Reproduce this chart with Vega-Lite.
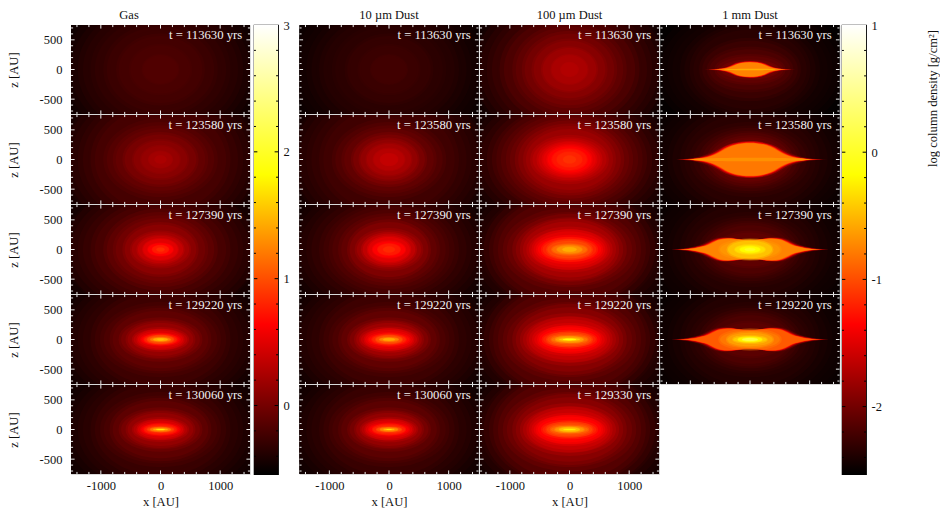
{"$schema":"https://vega.github.io/schema/vega-lite/v6.json","padding":{"left":7,"top":8,"right":0,"bottom":0},"background":"white","resolve":{"scale":{"color":"independent","stroke":"independent","strokeWidth":"independent","shape":"independent","size":"independent"}},"config":{"view":{"stroke":"#d8d8d8","strokeWidth":1},"font":"Liberation Serif","axis":{"labelFont":"Liberation Serif","titleFont":"Liberation Serif","labelFontSize":12.5,"titleFontSize":12.6,"titleFontWeight":"normal","labelColor":"#111","titleColor":"#111","ticks":false,"domain":false,"grid":false,"labelOverlap":false,"labelFlush":false},"title":{"font":"Liberation Serif","fontSize":12.5,"fontWeight":"normal","color":"#111","offset":3,"anchor":"middle"},"text":{"font":"Liberation Serif"}},
"datasets":{"xt":[{"x":-1400,"z":-750,"z2":-715},{"x":-1200,"z":-750,"z2":-715},{"x":-1000,"z":-750,"z2":-690},{"x":-800,"z":-750,"z2":-715},{"x":-600,"z":-750,"z2":-715},{"x":-400,"z":-750,"z2":-715},{"x":-200,"z":-750,"z2":-715},{"x":0,"z":-750,"z2":-690},{"x":200,"z":-750,"z2":-715},{"x":400,"z":-750,"z2":-715},{"x":600,"z":-750,"z2":-715},{"x":800,"z":-750,"z2":-715},{"x":1000,"z":-750,"z2":-690},{"x":1200,"z":-750,"z2":-715},{"x":1400,"z":-750,"z2":-715},{"x":-1400,"z":750,"z2":715},{"x":-1200,"z":750,"z2":715},{"x":-1000,"z":750,"z2":690},{"x":-800,"z":750,"z2":715},{"x":-600,"z":750,"z2":715},{"x":-400,"z":750,"z2":715},{"x":-200,"z":750,"z2":715},{"x":0,"z":750,"z2":690},{"x":200,"z":750,"z2":715},{"x":400,"z":750,"z2":715},{"x":600,"z":750,"z2":715},{"x":800,"z":750,"z2":715},{"x":1000,"z":750,"z2":690},{"x":1200,"z":750,"z2":715},{"x":1400,"z":750,"z2":715}],
"yt":[{"z":-700,"x":-1500,"x2":-1465},{"z":-600,"x":-1500,"x2":-1465},{"z":-500,"x":-1500,"x2":-1440},{"z":-400,"x":-1500,"x2":-1465},{"z":-300,"x":-1500,"x2":-1465},{"z":-200,"x":-1500,"x2":-1465},{"z":-100,"x":-1500,"x2":-1465},{"z":0,"x":-1500,"x2":-1440},{"z":100,"x":-1500,"x2":-1465},{"z":200,"x":-1500,"x2":-1465},{"z":300,"x":-1500,"x2":-1465},{"z":400,"x":-1500,"x2":-1465},{"z":500,"x":-1500,"x2":-1440},{"z":600,"x":-1500,"x2":-1465},{"z":700,"x":-1500,"x2":-1465},{"z":-700,"x":1500,"x2":1465},{"z":-600,"x":1500,"x2":1465},{"z":-500,"x":1500,"x2":1440},{"z":-400,"x":1500,"x2":1465},{"z":-300,"x":1500,"x2":1465},{"z":-200,"x":1500,"x2":1465},{"z":-100,"x":1500,"x2":1465},{"z":0,"x":1500,"x2":1440},{"z":100,"x":1500,"x2":1465},{"z":200,"x":1500,"x2":1465},{"z":300,"x":1500,"x2":1465},{"z":400,"x":1500,"x2":1465},{"z":500,"x":1500,"x2":1440},{"z":600,"x":1500,"x2":1465},{"z":700,"x":1500,"x2":1465}],
"bt":[{"g":-0.4,"m":-2.4,"x":0,"x2":0.08},{"g":-0.2,"m":-2.2,"x":0,"x2":0.08},{"g":0,"m":-2,"x":0,"x2":0.14},{"g":0.2,"m":-1.8,"x":0,"x2":0.08},{"g":0.4,"m":-1.6,"x":0,"x2":0.08},{"g":0.6,"m":-1.4,"x":0,"x2":0.08},{"g":0.8,"m":-1.2,"x":0,"x2":0.08},{"g":1,"m":-1,"x":0,"x2":0.14},{"g":1.2,"m":-0.8,"x":0,"x2":0.08},{"g":1.4,"m":-0.6,"x":0,"x2":0.08},{"g":1.6,"m":-0.4,"x":0,"x2":0.08},{"g":1.8,"m":-0.2,"x":0,"x2":0.08},{"g":2,"m":0,"x":0,"x2":0.14},{"g":2.2,"m":0.2,"x":0,"x2":0.08},{"g":2.4,"m":0.4,"x":0,"x2":0.08},{"g":2.6,"m":0.6,"x":0,"x2":0.08},{"g":2.8,"m":0.8,"x":0,"x2":0.08},{"g":-0.4,"m":-2.4,"x":1,"x2":0.92},{"g":-0.2,"m":-2.2,"x":1,"x2":0.92},{"g":0,"m":-2,"x":1,"x2":0.86},{"g":0.2,"m":-1.8,"x":1,"x2":0.92},{"g":0.4,"m":-1.6,"x":1,"x2":0.92},{"g":0.6,"m":-1.4,"x":1,"x2":0.92},{"g":0.8,"m":-1.2,"x":1,"x2":0.92},{"g":1,"m":-1,"x":1,"x2":0.86},{"g":1.2,"m":-0.8,"x":1,"x2":0.92},{"g":1.4,"m":-0.6,"x":1,"x2":0.92},{"g":1.6,"m":-0.4,"x":1,"x2":0.92},{"g":1.8,"m":-0.2,"x":1,"x2":0.92},{"g":2,"m":0,"x":1,"x2":0.86},{"g":2.2,"m":0.2,"x":1,"x2":0.92},{"g":2.4,"m":0.4,"x":1,"x2":0.92},{"g":2.6,"m":0.6,"x":1,"x2":0.92},{"g":2.8,"m":0.8,"x":1,"x2":0.92}],
"d":[
{"c":"g","r":1,"t":"t = 113630 yrs"},{"c":"g","r":2,"t":"t = 123580 yrs"},{"c":"g","r":3,"t":"t = 127390 yrs"},{"c":"g","r":4,"t":"t = 129220 yrs"},{"c":"g","r":5,"t":"t = 130060 yrs"},
{"c":"m","r":1,"t":"t = 113630 yrs"},{"c":"m","r":2,"t":"t = 123580 yrs"},{"c":"m","r":3,"t":"t = 127390 yrs"},{"c":"m","r":4,"t":"t = 129220 yrs"},{"c":"m","r":5,"t":"t = 130060 yrs"},
{"c":"h","r":1,"t":"t = 113630 yrs"},{"c":"h","r":2,"t":"t = 123580 yrs"},{"c":"h","r":3,"t":"t = 127390 yrs"},{"c":"h","r":4,"t":"t = 129220 yrs"},{"c":"h","r":5,"t":"t = 129330 yrs"},
{"c":"k","r":1,"t":"t = 113630 yrs"},{"c":"k","r":2,"t":"t = 123580 yrs"},{"c":"k","r":3,"t":"t = 127390 yrs"},{"c":"k","r":4,"t":"t = 129220 yrs"},
{"c":"g","r":1,"a":3000,"s":"e8","v":-0.52},{"c":"g","r":1,"a":1750,"s":"e8","v":-0.48},{"c":"g","r":1,"a":1650,"s":"e8","v":-0.46},{"c":"g","r":1,"a":1500,"s":"e8","v":-0.41},{"c":"g","r":1,"a":1300,"s":"e8","v":-0.36},{"c":"g","r":1,"a":1100,"s":"e8","v":-0.32},{"c":"g","r":1,"a":900,"s":"e8","v":-0.27},{"c":"g","r":1,"a":700,"s":"e8","v":-0.23},{"c":"g","r":1,"a":500,"s":"e8","v":-0.2},{"c":"g","r":1,"a":300,"s":"e8","v":-0.17},
{"c":"g","r":2,"a":3000,"s":"e8","v":-0.49},{"c":"g","r":2,"a":1800,"s":"e8","v":-0.46},{"c":"g","r":2,"a":1650,"s":"e8","v":-0.41},{"c":"g","r":2,"a":1500,"s":"e8","v":-0.35},{"c":"g","r":2,"a":1300,"s":"e8","v":-0.29},{"c":"g","r":2,"a":1100,"s":"e8","v":-0.22},{"c":"g","r":2,"a":900,"s":"e7","v":-0.15},{"c":"g","r":2,"a":750,"s":"e7","v":-0.08},{"c":"g","r":2,"a":600,"s":"e7","v":0.01},{"c":"g","r":2,"a":450,"s":"e7","v":0.09},{"c":"g","r":2,"a":320,"s":"e7","v":0.15},{"c":"g","r":2,"a":200,"s":"e7","v":0.21},{"c":"g","r":2,"a":100,"s":"e7","v":0.25},
{"c":"g","r":3,"a":3000,"s":"e7","v":-0.49},{"c":"g","r":3,"a":1800,"s":"e7","v":-0.47},{"c":"g","r":3,"a":1650,"s":"e7","v":-0.42},{"c":"g","r":3,"a":1500,"s":"e7","v":-0.35},{"c":"g","r":3,"a":1300,"s":"e7","v":-0.29},{"c":"g","r":3,"a":1100,"s":"e7","v":-0.21},{"c":"g","r":3,"a":900,"s":"e7","v":-0.11},{"c":"g","r":3,"a":750,"s":"e7","v":-0.02},{"c":"g","r":3,"a":600,"s":"e7","v":0.1},{"c":"g","r":3,"a":480,"s":"e6","v":0.22},{"c":"g","r":3,"a":380,"s":"e6","v":0.36},{"c":"g","r":3,"a":290,"s":"e6","v":0.5},{"c":"g","r":3,"a":210,"s":"e5","v":0.64},{"c":"g","r":3,"a":140,"s":"e5","v":0.76},{"c":"g","r":3,"a":70,"s":"e5","v":0.85},
{"c":"g","r":4,"a":3000,"s":"e8","v":-0.51},{"c":"g","r":4,"a":1800,"s":"e8","v":-0.48},{"c":"g","r":4,"a":1650,"s":"e8","v":-0.44},{"c":"g","r":4,"a":1500,"s":"e7","v":-0.38},{"c":"g","r":4,"a":1300,"s":"e7","v":-0.33},{"c":"g","r":4,"a":1100,"s":"e7","v":-0.26},{"c":"g","r":4,"a":950,"s":"e6","v":-0.19},{"c":"g","r":4,"a":800,"s":"e6","v":-0.1},{"c":"g","r":4,"a":660,"s":"e5","v":0.02},{"c":"g","r":4,"a":550,"s":"e5","v":0.15},{"c":"g","r":4,"a":450,"s":"e4","v":0.32},{"c":"g","r":4,"a":380,"s":"e4","v":0.48},{"c":"g","r":4,"a":320,"s":"e3","v":0.64},{"c":"g","r":4,"a":270,"s":"e3","v":0.8},{"c":"g","r":4,"a":220,"s":"e3","v":0.99},{"c":"g","r":4,"a":170,"s":"e2","v":1.22},{"c":"g","r":4,"a":120,"s":"e2","v":1.43},{"c":"g","r":4,"a":60,"s":"e2","v":1.52},
{"c":"g","r":5,"a":3000,"s":"e8","v":-0.51},{"c":"g","r":5,"a":1800,"s":"e8","v":-0.48},{"c":"g","r":5,"a":1650,"s":"e8","v":-0.45},{"c":"g","r":5,"a":1500,"s":"e7","v":-0.4},{"c":"g","r":5,"a":1300,"s":"e7","v":-0.35},{"c":"g","r":5,"a":1100,"s":"e7","v":-0.28},{"c":"g","r":5,"a":950,"s":"e6","v":-0.21},{"c":"g","r":5,"a":800,"s":"e6","v":-0.11},{"c":"g","r":5,"a":660,"s":"e5","v":0.01},{"c":"g","r":5,"a":550,"s":"e5","v":0.14},{"c":"g","r":5,"a":450,"s":"e4","v":0.29},{"c":"g","r":5,"a":380,"s":"e4","v":0.46},{"c":"g","r":5,"a":320,"s":"e3","v":0.62},{"c":"g","r":5,"a":270,"s":"e3","v":0.78},{"c":"g","r":5,"a":220,"s":"e2","v":0.96},{"c":"g","r":5,"a":170,"s":"e2","v":1.2},{"c":"g","r":5,"a":120,"s":"e1","v":1.45},{"c":"g","r":5,"a":70,"s":"e1","v":1.73},
{"c":"m","r":1,"a":3000,"s":"e8","v":-2.52},{"c":"m","r":1,"a":1750,"s":"e8","v":-2.49},{"c":"m","r":1,"a":1650,"s":"e8","v":-2.47},{"c":"m","r":1,"a":1500,"s":"e8","v":-2.44},{"c":"m","r":1,"a":1300,"s":"e8","v":-2.4},{"c":"m","r":1,"a":1100,"s":"e8","v":-2.36},{"c":"m","r":1,"a":900,"s":"e8","v":-2.33},{"c":"m","r":1,"a":700,"s":"e8","v":-2.29},{"c":"m","r":1,"a":500,"s":"e8","v":-2.26},{"c":"m","r":1,"a":300,"s":"e8","v":-2.23},
{"c":"m","r":2,"a":3000,"s":"e8","v":-2.49},{"c":"m","r":2,"a":1800,"s":"e8","v":-2.46},{"c":"m","r":2,"a":1650,"s":"e8","v":-2.41},{"c":"m","r":2,"a":1500,"s":"e8","v":-2.35},{"c":"m","r":2,"a":1300,"s":"e8","v":-2.3},{"c":"m","r":2,"a":1100,"s":"e8","v":-2.24},{"c":"m","r":2,"a":900,"s":"e7","v":-2.16},{"c":"m","r":2,"a":750,"s":"e7","v":-2.08},{"c":"m","r":2,"a":600,"s":"e7","v":-1.97},{"c":"m","r":2,"a":480,"s":"e7","v":-1.86},{"c":"m","r":2,"a":370,"s":"e7","v":-1.77},{"c":"m","r":2,"a":260,"s":"e7","v":-1.69},{"c":"m","r":2,"a":150,"s":"e7","v":-1.63},
{"c":"m","r":3,"a":3000,"s":"e8","v":-2.49},{"c":"m","r":3,"a":1800,"s":"e8","v":-2.47},{"c":"m","r":3,"a":1650,"s":"e8","v":-2.43},{"c":"m","r":3,"a":1500,"s":"e7","v":-2.37},{"c":"m","r":3,"a":1300,"s":"e7","v":-2.31},{"c":"m","r":3,"a":1100,"s":"e7","v":-2.24},{"c":"m","r":3,"a":950,"s":"e7","v":-2.17},{"c":"m","r":3,"a":800,"s":"e7","v":-2.08},{"c":"m","r":3,"a":660,"s":"e7","v":-1.95},{"c":"m","r":3,"a":540,"s":"e6","v":-1.82},{"c":"m","r":3,"a":440,"s":"e6","v":-1.65},{"c":"m","r":3,"a":350,"s":"e6","v":-1.49},{"c":"m","r":3,"a":270,"s":"e5","v":-1.35},{"c":"m","r":3,"a":190,"s":"e5","v":-1.24},{"c":"m","r":3,"a":100,"s":"e5","v":-1.17},
{"c":"m","r":4,"a":3000,"s":"e8","v":-2.5},{"c":"m","r":4,"a":1800,"s":"e8","v":-2.47},{"c":"m","r":4,"a":1650,"s":"e8","v":-2.43},{"c":"m","r":4,"a":1500,"s":"e7","v":-2.37},{"c":"m","r":4,"a":1300,"s":"e7","v":-2.32},{"c":"m","r":4,"a":1100,"s":"e7","v":-2.25},{"c":"m","r":4,"a":950,"s":"e6","v":-2.18},{"c":"m","r":4,"a":800,"s":"e6","v":-2.08},{"c":"m","r":4,"a":660,"s":"e5","v":-1.95},{"c":"m","r":4,"a":550,"s":"e5","v":-1.8},{"c":"m","r":4,"a":470,"s":"e4","v":-1.63},{"c":"m","r":4,"a":400,"s":"e4","v":-1.47},{"c":"m","r":4,"a":340,"s":"e3","v":-1.32},{"c":"m","r":4,"a":280,"s":"e3","v":-1.17},{"c":"m","r":4,"a":220,"s":"e3","v":-0.99},{"c":"m","r":4,"a":160,"s":"e2","v":-0.75},{"c":"m","r":4,"a":100,"s":"e2","v":-0.57},
{"c":"m","r":5,"a":3000,"s":"e8","v":-2.5},{"c":"m","r":5,"a":1800,"s":"e8","v":-2.47},{"c":"m","r":5,"a":1650,"s":"e8","v":-2.44},{"c":"m","r":5,"a":1500,"s":"e7","v":-2.39},{"c":"m","r":5,"a":1300,"s":"e7","v":-2.34},{"c":"m","r":5,"a":1100,"s":"e7","v":-2.27},{"c":"m","r":5,"a":950,"s":"e6","v":-2.2},{"c":"m","r":5,"a":800,"s":"e6","v":-2.11},{"c":"m","r":5,"a":660,"s":"e5","v":-1.99},{"c":"m","r":5,"a":550,"s":"e5","v":-1.85},{"c":"m","r":5,"a":460,"s":"e4","v":-1.69},{"c":"m","r":5,"a":390,"s":"e4","v":-1.52},{"c":"m","r":5,"a":330,"s":"e3","v":-1.37},{"c":"m","r":5,"a":270,"s":"e3","v":-1.19},{"c":"m","r":5,"a":210,"s":"e2","v":-0.99},{"c":"m","r":5,"a":150,"s":"e2","v":-0.73},{"c":"m","r":5,"a":90,"s":"e1","v":-0.46},{"c":"m","r":5,"a":45,"s":"e1","v":-0.22},
{"c":"h","r":1,"a":3000,"s":"e8","v":-2.5},{"c":"h","r":1,"a":1800,"s":"e8","v":-2.47},{"c":"h","r":1,"a":1650,"s":"e8","v":-2.43},{"c":"h","r":1,"a":1500,"s":"e8","v":-2.35},{"c":"h","r":1,"a":1300,"s":"e8","v":-2.28},{"c":"h","r":1,"a":1100,"s":"e8","v":-2.18},{"c":"h","r":1,"a":900,"s":"e8","v":-2.09},{"c":"h","r":1,"a":750,"s":"e8","v":-2.0},{"c":"h","r":1,"a":600,"s":"e8","v":-1.91},{"c":"h","r":1,"a":450,"s":"e8","v":-1.82},{"c":"h","r":1,"a":300,"s":"e8","v":-1.75},{"c":"h","r":1,"a":150,"s":"e8","v":-1.71},
{"c":"h","r":2,"a":3000,"s":"e8","v":-2.48},{"c":"h","r":2,"a":1800,"s":"e8","v":-2.45},{"c":"h","r":2,"a":1650,"s":"e8","v":-2.4},{"c":"h","r":2,"a":1500,"s":"e7","v":-2.32},{"c":"h","r":2,"a":1300,"s":"e7","v":-2.23},{"c":"h","r":2,"a":1150,"s":"e7","v":-2.14},{"c":"h","r":2,"a":1000,"s":"e7","v":-2.05},{"c":"h","r":2,"a":860,"s":"e7","v":-1.93},{"c":"h","r":2,"a":730,"s":"e7","v":-1.82},{"c":"h","r":2,"a":620,"s":"e6","v":-1.7},{"c":"h","r":2,"a":520,"s":"e6","v":-1.58},{"c":"h","r":2,"a":440,"s":"e6","v":-1.47},{"c":"h","r":2,"a":365,"s":"e6","v":-1.35},{"c":"h","r":2,"a":290,"s":"e6","v":-1.26},{"c":"h","r":2,"a":210,"s":"e6","v":-1.19},{"c":"h","r":2,"a":110,"s":"e6","v":-1.13},
{"c":"h","r":3,"a":3000,"s":"e8","v":-2.49},{"c":"h","r":3,"a":1800,"s":"e8","v":-2.46},{"c":"h","r":3,"a":1650,"s":"e8","v":-2.41},{"c":"h","r":3,"a":1500,"s":"e7","v":-2.35},{"c":"h","r":3,"a":1350,"s":"e7","v":-2.25},{"c":"h","r":3,"a":1200,"s":"e7","v":-2.15},{"c":"h","r":3,"a":1050,"s":"e6","v":-2.05},{"c":"h","r":3,"a":900,"s":"e6","v":-1.91},{"c":"h","r":3,"a":780,"s":"e6","v":-1.77},{"c":"h","r":3,"a":680,"s":"e5","v":-1.63},{"c":"h","r":3,"a":600,"s":"e5","v":-1.49},{"c":"h","r":3,"a":530,"s":"e4","v":-1.35},{"c":"h","r":3,"a":450,"s":"e4","v":-1.19},{"c":"h","r":3,"a":370,"s":"e4","v":-1.03},{"c":"h","r":3,"a":290,"s":"e3","v":-0.85},{"c":"h","r":3,"a":210,"s":"e3","v":-0.69},{"c":"h","r":3,"a":120,"s":"e3","v":-0.55},
{"c":"h","r":4,"a":3000,"s":"e8","v":-2.49},{"c":"h","r":4,"a":1800,"s":"e8","v":-2.46},{"c":"h","r":4,"a":1650,"s":"e8","v":-2.41},{"c":"h","r":4,"a":1500,"s":"e7","v":-2.35},{"c":"h","r":4,"a":1350,"s":"e7","v":-2.25},{"c":"h","r":4,"a":1200,"s":"e7","v":-2.15},{"c":"h","r":4,"a":1050,"s":"e6","v":-2.05},{"c":"h","r":4,"a":900,"s":"e6","v":-1.91},{"c":"h","r":4,"a":780,"s":"e5","v":-1.77},{"c":"h","r":4,"a":680,"s":"e5","v":-1.63},{"c":"h","r":4,"a":590,"s":"e4","v":-1.49},{"c":"h","r":4,"a":510,"s":"e4","v":-1.35},{"c":"h","r":4,"a":440,"s":"e3","v":-1.19},{"c":"h","r":4,"a":370,"s":"e3","v":-1.01},{"c":"h","r":4,"a":300,"s":"e2","v":-0.82},{"c":"h","r":4,"a":230,"s":"e2","v":-0.62},{"c":"h","r":4,"a":170,"s":"e1","v":-0.41},{"c":"h","r":4,"a":110,"s":"e1","v":-0.18},{"c":"h","r":4,"a":60,"s":"e1","v":-0.09},
{"c":"h","r":5,"a":3000,"s":"e8","v":-2.49},{"c":"h","r":5,"a":1800,"s":"e8","v":-2.46},{"c":"h","r":5,"a":1650,"s":"e8","v":-2.41},{"c":"h","r":5,"a":1500,"s":"e7","v":-2.34},{"c":"h","r":5,"a":1350,"s":"e7","v":-2.25},{"c":"h","r":5,"a":1200,"s":"e7","v":-2.14},{"c":"h","r":5,"a":1050,"s":"e6","v":-2.03},{"c":"h","r":5,"a":900,"s":"e6","v":-1.9},{"c":"h","r":5,"a":780,"s":"e5","v":-1.75},{"c":"h","r":5,"a":680,"s":"e5","v":-1.61},{"c":"h","r":5,"a":600,"s":"e4","v":-1.47},{"c":"h","r":5,"a":530,"s":"e4","v":-1.35},{"c":"h","r":5,"a":450,"s":"e3","v":-1.19},{"c":"h","r":5,"a":380,"s":"e3","v":-1.03},{"c":"h","r":5,"a":310,"s":"e2","v":-0.85},{"c":"h","r":5,"a":240,"s":"e2","v":-0.66},{"c":"h","r":5,"a":170,"s":"e2","v":-0.46},{"c":"h","r":5,"a":100,"s":"e1","v":-0.22},
{"c":"k","r":1,"a":3000,"s":"e8","v":-2.52},{"c":"k","r":1,"a":1800,"s":"e8","v":-2.51},{"c":"k","r":1,"a":1500,"s":"e7","v":-2.47},{"c":"k","r":1,"a":1300,"s":"e7","v":-2.44},{"c":"k","r":1,"a":1100,"s":"e7","v":-2.39},{"c":"k","r":1,"a":950,"s":"e7","v":-2.34},{"c":"k","r":1,"a":800,"s":"e6","v":-2.26},{"c":"k","r":1,"a":680,"s":"e5","v":-2.18},{"c":"k","r":1,"a":560,"s":"e4","v":-2.09},{"c":"k","r":1,"a":460,"s":"e3","v":-1.98},{"c":"k","r":1,"a":860,"s":"l18","v":-2.02},{"c":"k","r":1,"a":780,"s":"l18","v":-1.75},{"c":"k","r":1,"a":740,"s":"l18","v":-1.35},{"c":"k","r":1,"a":700,"s":"l18","v":-1.05},{"c":"k","r":1,"a":670,"s":"l18","v":-0.75},{"c":"k","r":1,"a":430,"s":"e03","v":-0.55},
{"c":"k","r":2,"a":3000,"s":"e8","v":-2.52},{"c":"k","r":2,"a":1800,"s":"e8","v":-2.49},{"c":"k","r":2,"a":1600,"s":"e8","v":-2.47},{"c":"k","r":2,"a":1500,"s":"e7","v":-2.44},{"c":"k","r":2,"a":1300,"s":"e7","v":-2.39},{"c":"k","r":2,"a":1100,"s":"e7","v":-2.34},{"c":"k","r":2,"a":950,"s":"e6","v":-2.28},{"c":"k","r":2,"a":800,"s":"e6","v":-2.2},{"c":"k","r":2,"a":680,"s":"e6","v":-2.11},{"c":"k","r":2,"a":560,"s":"e6","v":-2.02},{"c":"k","r":2,"a":1380,"s":"l24","v":-2.07},{"c":"k","r":2,"a":1300,"s":"l24","v":-1.84},{"c":"k","r":2,"a":1250,"s":"l24","v":-1.56},{"c":"k","r":2,"a":1210,"s":"l24","v":-1.29},{"c":"k","r":2,"a":1175,"s":"l24","v":-0.96},{"c":"k","r":2,"a":1140,"s":"l24","v":-0.8},{"c":"k","r":2,"a":1000,"s":"e03","v":-0.69},
{"c":"k","r":3,"a":3000,"s":"e8","v":-2.52},{"c":"k","r":3,"a":1800,"s":"e8","v":-2.5},{"c":"k","r":3,"a":1600,"s":"e8","v":-2.47},{"c":"k","r":3,"a":1500,"s":"e7","v":-2.45},{"c":"k","r":3,"a":1300,"s":"e7","v":-2.41},{"c":"k","r":3,"a":1100,"s":"e7","v":-2.36},{"c":"k","r":3,"a":950,"s":"e6","v":-2.31},{"c":"k","r":3,"a":800,"s":"e6","v":-2.24},{"c":"k","r":3,"a":680,"s":"e6","v":-2.17},{"c":"k","r":3,"a":560,"s":"e5","v":-2.09},{"c":"k","r":3,"a":1420,"s":"p","v":-2.1},{"c":"k","r":3,"a":1360,"s":"p","v":-1.84},{"c":"k","r":3,"a":1320,"s":"p","v":-1.52},{"c":"k","r":3,"a":1290,"s":"p","v":-1.24},{"c":"k","r":3,"a":1260,"s":"p","v":-0.89},{"c":"k","r":3,"a":1220,"s":"p","v":-0.75},{"c":"k","r":3,"a":500,"s":"e3","v":-0.66},{"c":"k","r":3,"a":370,"s":"e4","v":-0.46},{"c":"k","r":3,"a":250,"s":"e3","v":-0.32},{"c":"k","r":3,"a":170,"s":"e3","v":-0.18},{"c":"k","r":3,"a":90,"s":"e3","v":-0.02},
{"c":"k","r":4,"a":3000,"s":"e8","v":-2.52},{"c":"k","r":4,"a":1800,"s":"e8","v":-2.5},{"c":"k","r":4,"a":1600,"s":"e8","v":-2.48},{"c":"k","r":4,"a":1500,"s":"e7","v":-2.46},{"c":"k","r":4,"a":1300,"s":"e7","v":-2.42},{"c":"k","r":4,"a":1100,"s":"e7","v":-2.37},{"c":"k","r":4,"a":950,"s":"e6","v":-2.32},{"c":"k","r":4,"a":800,"s":"e6","v":-2.25},{"c":"k","r":4,"a":680,"s":"e6","v":-2.18},{"c":"k","r":4,"a":560,"s":"e5","v":-2.11},{"c":"k","r":4,"a":1420,"s":"p","v":-2.12},{"c":"k","r":4,"a":1360,"s":"p","v":-1.88},{"c":"k","r":4,"a":1320,"s":"p","v":-1.61},{"c":"k","r":4,"a":1290,"s":"p","v":-1.33},{"c":"k","r":4,"a":1260,"s":"p","v":-1.05},{"c":"k","r":4,"a":1230,"s":"p","v":-0.94},{"c":"k","r":4,"a":500,"s":"e3","v":-0.8},{"c":"k","r":4,"a":380,"s":"e3","v":-0.62},{"c":"k","r":4,"a":280,"s":"e2","v":-0.41},{"c":"k","r":4,"a":200,"s":"e2","v":-0.225},{"c":"k","r":4,"a":130,"s":"e2","v":0.14}
]},
"spacing":-0.5,"hconcat":[
{"spacing":1,"resolve":{"scale":{"color":"independent","stroke":"independent","strokeWidth":"independent","shape":"independent","size":"independent"}},"hconcat":[
{"data":{"name":"d"},"transform":[{"filter":"datum.c=='g'"}],"title":"Gas","spacing":1,"bounds":"flush","facet":{"row":{"field":"r","type":"ordinal","header":null}},"spec":{"width":179,"height":89,"encoding":{"x":{"type":"quantitative","scale":{"domain":[-1500,1500]},"axis":{"title":"x [AU]","values":[-1000,0,1000],"labelExpr":"''+datum.value","labelPadding":5,"titlePadding":4}},"y":{"type":"quantitative","scale":{"domain":[-750,750]},"axis":{"title":"z [AU]","values":[-500,0,500],"labelExpr":"''+datum.value","labelPadding":9,"titlePadding":19}}},"layer":[
{"transform":[{"filter":"datum.a>0"}],"mark":{"type":"point","filled":true,"opacity":1,"clip":true,"strokeOpacity":0.5},"encoding":{"x":{"datum":0},"y":{"datum":0},"size":{"field":"a","type":"quantitative","scale":{"type":"pow","exponent":2,"domain":[0,3000],"range":[0,128160]},"legend":null},"strokeWidth":{"field":"a","type":"quantitative","scale":{"domain":[0,3000],"range":[0,24]},"legend":null},"color":{"field":"v","type":"quantitative","scale":{"domain":[-0.54,0.64,1.82,3],"range":["#000000","#ff0000","#ffff00","#ffffff"],"interpolate":"rgb"},"legend":null},"stroke":{"field":"v","type":"quantitative","scale":{"domain":[-0.54,0.64,1.82,3],"range":["#000000","#ff0000","#ffff00","#ffffff"],"interpolate":"rgb"},"legend":null},"shape":{"field":"s","type":"nominal","legend":null,"scale":{"domain":["e8","e7","e6","e5","e4","e3","e2","e1"],"range":["M-1 0C-1 -.44 -.55 -.8 0 -.8C.55 -.8 1 -.44 1 0C1 .44 .55 .8 0 .8C-.55 .8 -1 .44 -1 0Z","M-1 0C-1 -.385 -.55 -.7 0 -.7C.55 -.7 1 -.385 1 0C1 .385 .55 .7 0 .7C-.55 .7 -1 .385 -1 0Z","M-1 0C-1 -.33 -.55 -.6 0 -.6C.55 -.6 1 -.33 1 0C1 .33 .55 .6 0 .6C-.55 .6 -1 .33 -1 0Z","M-1 0C-1 -.275 -.55 -.5 0 -.5C.55 -.5 1 -.275 1 0C1 .275 .55 .5 0 .5C-.55 .5 -1 .275 -1 0Z","M-1 0C-1 -.22 -.55 -.4 0 -.4C.55 -.4 1 -.22 1 0C1 .22 .55 .4 0 .4C-.55 .4 -1 .22 -1 0Z","M-1 0C-1 -.165 -.55 -.3 0 -.3C.55 -.3 1 -.165 1 0C1 .165 .55 .3 0 .3C-.55 .3 -1 .165 -1 0Z","M-1 0C-1 -.11 -.55 -.2 0 -.2C.55 -.2 1 -.11 1 0C1 .11 .55 .2 0 .2C-.55 .2 -1 .11 -1 0Z","M-1 0C-1 -.055 -.55 -.1 0 -.1C.55 -.1 1 -.055 1 0C1 .055 .55 .1 0 .1C-.55 .1 -1 .055 -1 0Z"]}}}},
{"data":{"name":"xt"},"mark":{"type":"rule","color":"#eeeeee","strokeWidth":1},"encoding":{"x":{"field":"x"},"y":{"field":"z"},"y2":{"field":"z2"}}},
{"data":{"name":"yt"},"mark":{"type":"rule","color":"#eeeeee","strokeWidth":1},"encoding":{"x":{"field":"x"},"x2":{"field":"x2"},"y":{"field":"z"}}},
{"transform":[{"filter":"datum.t"}],"mark":{"type":"text","align":"right","baseline":"middle","fontSize":12.7,"color":"#f0f0f0"},"encoding":{"x":{"datum":1370},"y":{"datum":580},"text":{"field":"t"}}}
]}},
{"width":24,"height":449,"view":{"stroke":"#000000","strokeWidth":1.2},"encoding":{"x":{"type":"quantitative","scale":{"domain":[0,1]},"axis":null},"y":{"type":"quantitative","scale":{"domain":[-0.54,3]},"axis":{"orient":"right","title":null,"values":[0,1,2,3],"labelPadding":5,"minExtent":20,"maxExtent":20}}},"layer":[
{"data":{"values":[{"a":0,"b":1,"lo":-0.54,"hi":3}]},"mark":{"type":"rect","fill":{"gradient":"linear","x1":0,"y1":1,"x2":0,"y2":0,"stops":[{"offset":0,"color":"#000000"},{"offset":0.3333,"color":"#ff0000"},{"offset":0.6667,"color":"#ffff00"},{"offset":1,"color":"#ffffff"}]}},"encoding":{"x":{"field":"a"},"x2":{"field":"b"},"y":{"field":"lo"},"y2":{"field":"hi"}}},
{"data":{"name":"bt"},"mark":{"type":"rule","color":"#000000","strokeWidth":1},"encoding":{"x":{"field":"x"},"x2":{"field":"x2"},"y":{"field":"g"}}}
]}
]},
{"data":{"name":"d"},"transform":[{"filter":"datum.c=='m'"}],"title":"10 µm Dust","spacing":1,"bounds":"flush","facet":{"row":{"field":"r","type":"ordinal","header":null}},"spec":{"width":179,"height":89,"encoding":{"x":{"type":"quantitative","scale":{"domain":[-1500,1500]},"axis":{"title":"x [AU]","values":[-1000,0,1000],"labelExpr":"''+datum.value","labelPadding":5,"titlePadding":4}},"y":{"type":"quantitative","scale":{"domain":[-750,750]},"axis":null}},"layer":[
{"transform":[{"filter":"datum.a>0"}],"mark":{"type":"point","filled":true,"opacity":1,"clip":true,"strokeOpacity":0.5},"encoding":{"x":{"datum":0},"y":{"datum":0},"size":{"field":"a","type":"quantitative","scale":{"type":"pow","exponent":2,"domain":[0,3000],"range":[0,128160]},"legend":null},"strokeWidth":{"field":"a","type":"quantitative","scale":{"domain":[0,3000],"range":[0,24]},"legend":null},"color":{"field":"v","type":"quantitative","scale":{"domain":[-2.53,-1.353,-0.177,1],"range":["#000000","#ff0000","#ffff00","#ffffff"],"interpolate":"rgb"},"legend":null},"stroke":{"field":"v","type":"quantitative","scale":{"domain":[-2.53,-1.353,-0.177,1],"range":["#000000","#ff0000","#ffff00","#ffffff"],"interpolate":"rgb"},"legend":null},"shape":{"field":"s","type":"nominal","legend":null,"scale":{"domain":["e8","e7","e6","e5","e4","e3","e2","e1"],"range":["M-1 0C-1 -.44 -.55 -.8 0 -.8C.55 -.8 1 -.44 1 0C1 .44 .55 .8 0 .8C-.55 .8 -1 .44 -1 0Z","M-1 0C-1 -.385 -.55 -.7 0 -.7C.55 -.7 1 -.385 1 0C1 .385 .55 .7 0 .7C-.55 .7 -1 .385 -1 0Z","M-1 0C-1 -.33 -.55 -.6 0 -.6C.55 -.6 1 -.33 1 0C1 .33 .55 .6 0 .6C-.55 .6 -1 .33 -1 0Z","M-1 0C-1 -.275 -.55 -.5 0 -.5C.55 -.5 1 -.275 1 0C1 .275 .55 .5 0 .5C-.55 .5 -1 .275 -1 0Z","M-1 0C-1 -.22 -.55 -.4 0 -.4C.55 -.4 1 -.22 1 0C1 .22 .55 .4 0 .4C-.55 .4 -1 .22 -1 0Z","M-1 0C-1 -.165 -.55 -.3 0 -.3C.55 -.3 1 -.165 1 0C1 .165 .55 .3 0 .3C-.55 .3 -1 .165 -1 0Z","M-1 0C-1 -.11 -.55 -.2 0 -.2C.55 -.2 1 -.11 1 0C1 .11 .55 .2 0 .2C-.55 .2 -1 .11 -1 0Z","M-1 0C-1 -.055 -.55 -.1 0 -.1C.55 -.1 1 -.055 1 0C1 .055 .55 .1 0 .1C-.55 .1 -1 .055 -1 0Z"]}}}},
{"data":{"name":"xt"},"mark":{"type":"rule","color":"#eeeeee","strokeWidth":1},"encoding":{"x":{"field":"x"},"y":{"field":"z"},"y2":{"field":"z2"}}},
{"data":{"name":"yt"},"mark":{"type":"rule","color":"#eeeeee","strokeWidth":1},"encoding":{"x":{"field":"x"},"x2":{"field":"x2"},"y":{"field":"z"}}},
{"transform":[{"filter":"datum.t"}],"mark":{"type":"text","align":"right","baseline":"middle","fontSize":12.7,"color":"#f0f0f0"},"encoding":{"x":{"datum":1370},"y":{"datum":580},"text":{"field":"t"}}}
]}},
{"data":{"name":"d"},"transform":[{"filter":"datum.c=='h'"}],"title":"100 µm Dust","spacing":1,"bounds":"flush","facet":{"row":{"field":"r","type":"ordinal","header":null}},"spec":{"width":179,"height":89,"encoding":{"x":{"type":"quantitative","scale":{"domain":[-1500,1500]},"axis":{"title":"x [AU]","values":[-1000,0,1000],"labelExpr":"''+datum.value","labelPadding":5,"titlePadding":4}},"y":{"type":"quantitative","scale":{"domain":[-750,750]},"axis":null}},"layer":[
{"transform":[{"filter":"datum.a>0"}],"mark":{"type":"point","filled":true,"opacity":1,"clip":true,"strokeOpacity":0.5},"encoding":{"x":{"datum":0},"y":{"datum":0},"size":{"field":"a","type":"quantitative","scale":{"type":"pow","exponent":2,"domain":[0,3000],"range":[0,128160]},"legend":null},"strokeWidth":{"field":"a","type":"quantitative","scale":{"domain":[0,3000],"range":[0,24]},"legend":null},"color":{"field":"v","type":"quantitative","scale":{"domain":[-2.53,-1.353,-0.177,1],"range":["#000000","#ff0000","#ffff00","#ffffff"],"interpolate":"rgb"},"legend":null},"stroke":{"field":"v","type":"quantitative","scale":{"domain":[-2.53,-1.353,-0.177,1],"range":["#000000","#ff0000","#ffff00","#ffffff"],"interpolate":"rgb"},"legend":null},"shape":{"field":"s","type":"nominal","legend":null,"scale":{"domain":["e8","e7","e6","e5","e4","e3","e2","e1"],"range":["M-1 0C-1 -.44 -.55 -.8 0 -.8C.55 -.8 1 -.44 1 0C1 .44 .55 .8 0 .8C-.55 .8 -1 .44 -1 0Z","M-1 0C-1 -.385 -.55 -.7 0 -.7C.55 -.7 1 -.385 1 0C1 .385 .55 .7 0 .7C-.55 .7 -1 .385 -1 0Z","M-1 0C-1 -.33 -.55 -.6 0 -.6C.55 -.6 1 -.33 1 0C1 .33 .55 .6 0 .6C-.55 .6 -1 .33 -1 0Z","M-1 0C-1 -.275 -.55 -.5 0 -.5C.55 -.5 1 -.275 1 0C1 .275 .55 .5 0 .5C-.55 .5 -1 .275 -1 0Z","M-1 0C-1 -.22 -.55 -.4 0 -.4C.55 -.4 1 -.22 1 0C1 .22 .55 .4 0 .4C-.55 .4 -1 .22 -1 0Z","M-1 0C-1 -.165 -.55 -.3 0 -.3C.55 -.3 1 -.165 1 0C1 .165 .55 .3 0 .3C-.55 .3 -1 .165 -1 0Z","M-1 0C-1 -.11 -.55 -.2 0 -.2C.55 -.2 1 -.11 1 0C1 .11 .55 .2 0 .2C-.55 .2 -1 .11 -1 0Z","M-1 0C-1 -.055 -.55 -.1 0 -.1C.55 -.1 1 -.055 1 0C1 .055 .55 .1 0 .1C-.55 .1 -1 .055 -1 0Z"]}}}},
{"data":{"name":"xt"},"mark":{"type":"rule","color":"#eeeeee","strokeWidth":1},"encoding":{"x":{"field":"x"},"y":{"field":"z"},"y2":{"field":"z2"}}},
{"data":{"name":"yt"},"mark":{"type":"rule","color":"#eeeeee","strokeWidth":1},"encoding":{"x":{"field":"x"},"x2":{"field":"x2"},"y":{"field":"z"}}},
{"transform":[{"filter":"datum.t"}],"mark":{"type":"text","align":"right","baseline":"middle","fontSize":12.7,"color":"#f0f0f0"},"encoding":{"x":{"datum":1370},"y":{"datum":580},"text":{"field":"t"}}}
]}},
{"data":{"name":"d"},"transform":[{"filter":"datum.c=='k'"}],"title":"1 mm Dust","spacing":1,"bounds":"flush","facet":{"row":{"field":"r","type":"ordinal","header":null}},"spec":{"width":179,"height":89,"encoding":{"x":{"type":"quantitative","scale":{"domain":[-1500,1500]},"axis":null},"y":{"type":"quantitative","scale":{"domain":[-750,750]},"axis":null}},"layer":[
{"transform":[{"filter":"datum.a>0"}],"mark":{"type":"point","filled":true,"opacity":1,"clip":true,"strokeOpacity":0.5},"encoding":{"x":{"datum":0},"y":{"datum":0},"size":{"field":"a","type":"quantitative","scale":{"type":"pow","exponent":2,"domain":[0,3000],"range":[0,128160]},"legend":null},"strokeWidth":{"condition":{"test":"datum.s=='l18'||datum.s=='l24'||datum.s=='p'||datum.s=='e03'","value":0},"field":"a","type":"quantitative","scale":{"domain":[0,3000],"range":[0,24]},"legend":null},"color":{"field":"v","type":"quantitative","scale":{"domain":[-2.53,-1.353,-0.177,1],"range":["#000000","#ff0000","#ffff00","#ffffff"],"interpolate":"rgb"},"legend":null},"stroke":{"field":"v","type":"quantitative","scale":{"domain":[-2.53,-1.353,-0.177,1],"range":["#000000","#ff0000","#ffff00","#ffffff"],"interpolate":"rgb"},"legend":null},"shape":{"field":"s","type":"nominal","legend":null,"scale":{"domain":["e8","e7","e6","e5","e4","e3","e2","e03","l18","l24","p"],"range":["M-1 0C-1 -.44 -.55 -.8 0 -.8C.55 -.8 1 -.44 1 0C1 .44 .55 .8 0 .8C-.55 .8 -1 .44 -1 0Z","M-1 0C-1 -.385 -.55 -.7 0 -.7C.55 -.7 1 -.385 1 0C1 .385 .55 .7 0 .7C-.55 .7 -1 .385 -1 0Z","M-1 0C-1 -.33 -.55 -.6 0 -.6C.55 -.6 1 -.33 1 0C1 .33 .55 .6 0 .6C-.55 .6 -1 .33 -1 0Z","M-1 0C-1 -.275 -.55 -.5 0 -.5C.55 -.5 1 -.275 1 0C1 .275 .55 .5 0 .5C-.55 .5 -1 .275 -1 0Z","M-1 0C-1 -.22 -.55 -.4 0 -.4C.55 -.4 1 -.22 1 0C1 .22 .55 .4 0 .4C-.55 .4 -1 .22 -1 0Z","M-1 0C-1 -.165 -.55 -.3 0 -.3C.55 -.3 1 -.165 1 0C1 .165 .55 .3 0 .3C-.55 .3 -1 .165 -1 0Z","M-1 0C-1 -.11 -.55 -.2 0 -.2C.55 -.2 1 -.11 1 0C1 .11 .55 .2 0 .2C-.55 .2 -1 .11 -1 0Z","M-1 0C-1 -.0165 -.55 -.03 0 -.03C.55 -.03 1 -.0165 1 0C1 .0165 .55 .03 0 .03C-.55 .03 -1 .0165 -1 0Z","M-1 0C-.7 0 -.55 -.027 -.4 -.099C-.3 -.153 -.15 -.18 0 -.18C.15 -.18 .3 -.153 .4 -.099C.55 -.027 .7 0 1 0C.7 0 .55 .027 .4 .099C.3 .153 .15 .18 0 .18C-.15 .18 -.3 .153 -.4 .099C-.55 .027 -.7 0 -1 0Z","M-1 0C-.7 0 -.55 -.036 -.4 -.132C-.3 -.204 -.15 -.24 0 -.24C.15 -.24 .3 -.204 .4 -.132C.55 -.036 .7 0 1 0C.7 0 .55 .036 .4 .132C.3 .204 .15 .24 0 .24C-.15 .24 -.3 .204 -.4 .132C-.55 .036 -.7 0 -1 0Z","M-1 0C-.8 0 -.72 -.02 -.6 -.05C-.5 -.085 -.45 -.147 -.3 -.147C-.17 -.147 -.12 -.118 0 -.118C.12 -.118 .17 -.147 .3 -.147C.45 -.147 .5 -.085 .6 -.05C.72 -.02 .8 0 1 0C.8 0 .72 .02 .6 .05C.5 .085 .45 .147 .3 .147C.17 .147 .12 .118 0 .118C-.12 .118 -.17 .147 -.3 .147C-.45 .147 -.5 .085 -.6 .05C-.72 .02 -.8 0 -1 0Z"]}}}},
{"data":{"name":"xt"},"mark":{"type":"rule","color":"#eeeeee","strokeWidth":1},"encoding":{"x":{"field":"x"},"y":{"field":"z"},"y2":{"field":"z2"}}},
{"data":{"name":"yt"},"mark":{"type":"rule","color":"#eeeeee","strokeWidth":1},"encoding":{"x":{"field":"x"},"x2":{"field":"x2"},"y":{"field":"z"}}},
{"transform":[{"filter":"datum.t"}],"mark":{"type":"text","align":"right","baseline":"middle","fontSize":12.7,"color":"#f0f0f0"},"encoding":{"x":{"datum":1370},"y":{"datum":580},"text":{"field":"t"}}}
]}},
{"width":24,"height":449,"view":{"stroke":"#000000","strokeWidth":1.2},"encoding":{"x":{"type":"quantitative","scale":{"domain":[0,1]},"axis":null},"y":{"type":"quantitative","scale":{"domain":[-2.53,1]},"axis":{"orient":"right","title":"log column density [g/cm²]","values":[-2,-1,0,1],"labelExpr":"''+datum.value","labelPadding":5,"titleAngle":270,"titleAlign":"center","titleBaseline":"middle","titleX":66,"titleY":73}}},"layer":[
{"data":{"values":[{"a":0,"b":1,"lo":-2.53,"hi":1}]},"mark":{"type":"rect","fill":{"gradient":"linear","x1":0,"y1":1,"x2":0,"y2":0,"stops":[{"offset":0,"color":"#000000"},{"offset":0.3333,"color":"#ff0000"},{"offset":0.6667,"color":"#ffff00"},{"offset":1,"color":"#ffffff"}]}},"encoding":{"x":{"field":"a"},"x2":{"field":"b"},"y":{"field":"lo"},"y2":{"field":"hi"}}},
{"data":{"name":"bt"},"mark":{"type":"rule","color":"#000000","strokeWidth":1},"encoding":{"x":{"field":"x"},"x2":{"field":"x2"},"y":{"field":"m"}}}
]}
]}
